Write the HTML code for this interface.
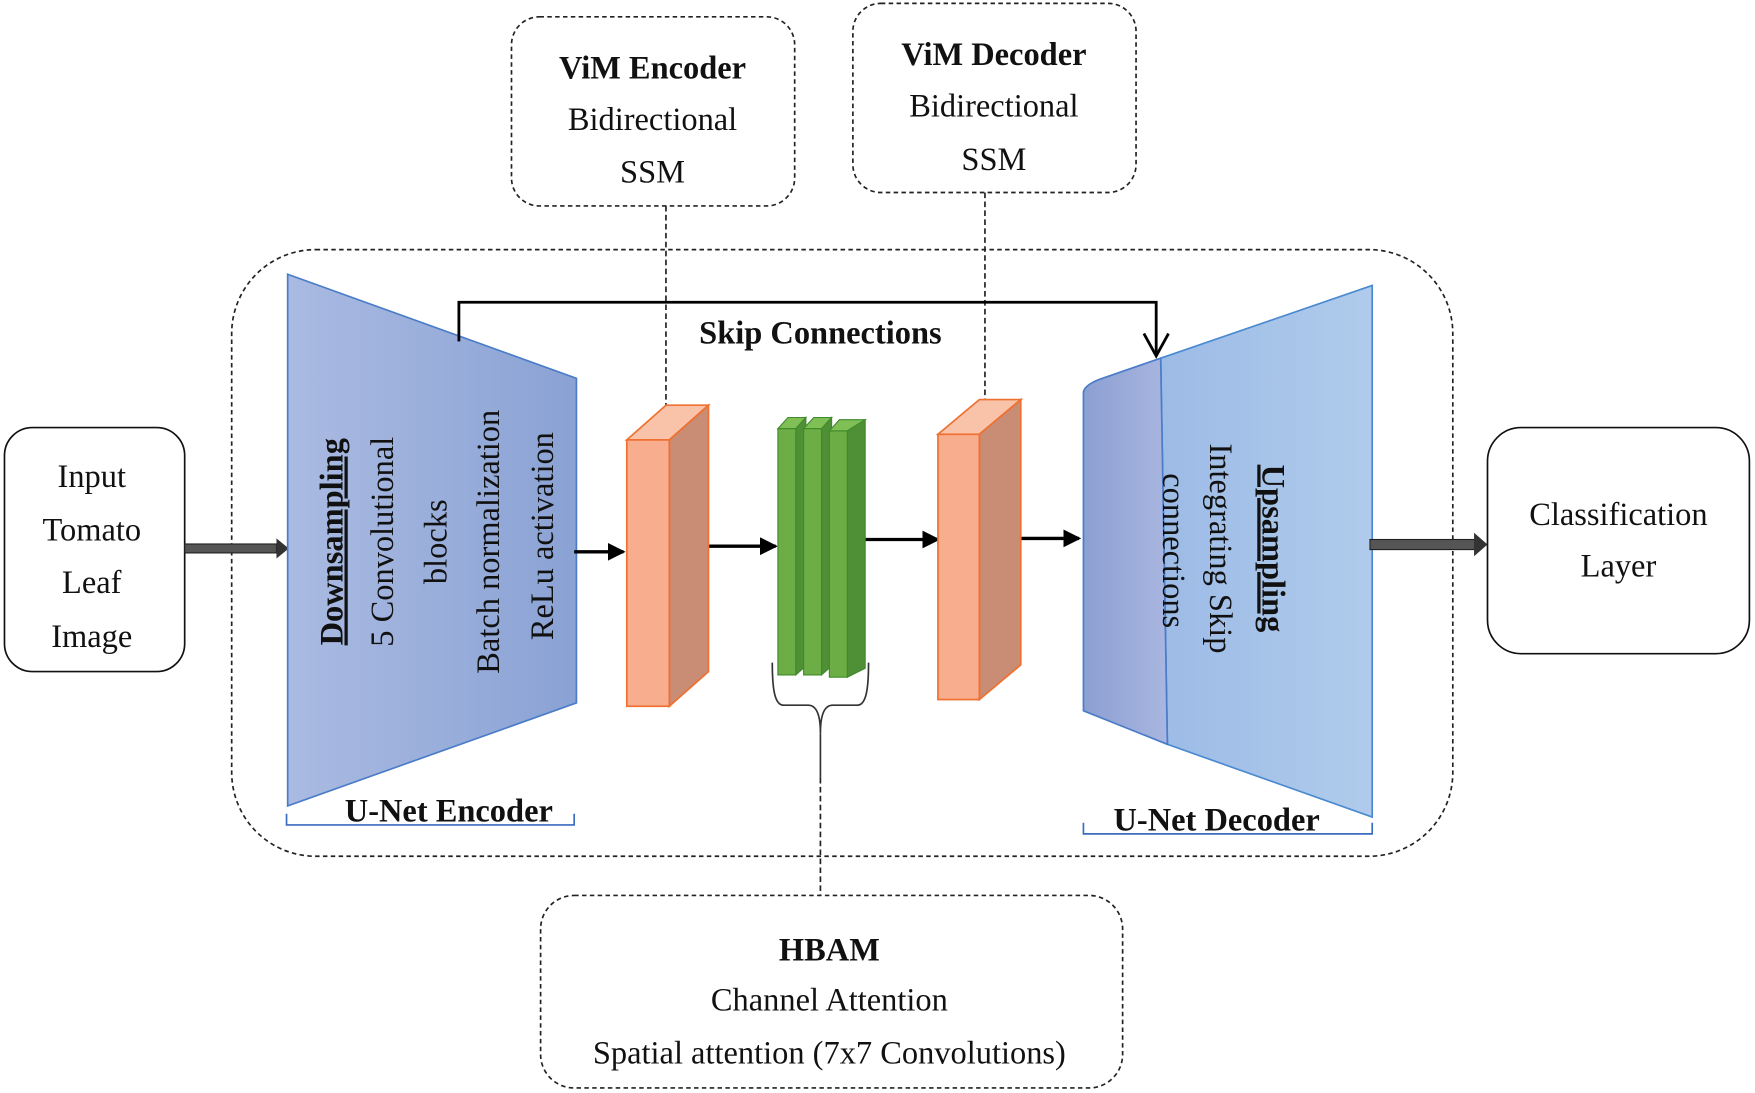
<!DOCTYPE html>
<html><head><meta charset="utf-8"><style>
html,body{margin:0;padding:0;background:#fff}
svg{display:block}
text{font-family:"Liberation Serif",serif;fill:#111}
.b{font-weight:bold}
</style></head><body>
<svg width="1755" height="1093" viewBox="0 0 1568 976.5" preserveAspectRatio="none" xmlns="http://www.w3.org/2000/svg">
<defs>
<linearGradient id="enc" x1="0" x2="1" y1="0" y2="0"><stop offset="0" stop-color="#aabbe2"/><stop offset="1" stop-color="#8aa2d4"/></linearGradient>
<linearGradient id="decd" x1="0" x2="1"><stop offset="0" stop-color="#8b9fd2"/><stop offset="1" stop-color="#a9b6e0"/></linearGradient>
<linearGradient id="decl" x1="0" x2="1"><stop offset="0" stop-color="#9cbbe6"/><stop offset="1" stop-color="#b0cbeb"/></linearGradient>
<marker id="ah" markerWidth="16" markerHeight="16" refX="14" refY="8" orient="auto" markerUnits="userSpaceOnUse"><path d="M0,0 L16,8 L0,16 z" fill="#000"/></marker>
</defs>
<rect x="207" y="223" width="1091" height="542" rx="75" fill="none" stroke="#222" stroke-width="1.5" stroke-dasharray="4,3"/>
<rect x="4" y="382" width="161" height="218" rx="25" fill="#fff" stroke="#111" stroke-width="1.5"/>
<g font-size="29" text-anchor="middle"><text x="82" y="435">Input</text><text x="82" y="483">Tomato</text><text x="82" y="530">Leaf</text><text x="82" y="578">Image</text></g>
<rect x="165" y="486" width="82" height="8" fill="#555" stroke="#222"/>
<path d="M247,481 L258,490 L247,499 z" fill="#333"/>
<rect x="457" y="15" width="253" height="169" rx="25" fill="#fff" stroke="#222" stroke-width="1.5" stroke-dasharray="4,3"/>
<g font-size="29" text-anchor="middle"><text class="b" x="583" y="70">ViM Encoder</text><text x="583" y="116">Bidirectional</text><text x="583" y="163">SSM</text></g>
<rect x="762" y="3" width="253" height="169" rx="25" fill="#fff" stroke="#222" stroke-width="1.5" stroke-dasharray="4,3"/>
<g font-size="29" text-anchor="middle"><text class="b" x="888" y="58">ViM Decoder</text><text x="888" y="104">Bidirectional</text><text x="888" y="152">SSM</text></g>
<line x1="595" y1="184" x2="595" y2="362" stroke="#222" stroke-width="1.5" stroke-dasharray="5,3"/>
<line x1="880" y1="172" x2="880" y2="357" stroke="#222" stroke-width="1.5" stroke-dasharray="5,3"/>
<polygon points="257,245 515,338 515,628 257,720" fill="url(#enc)" stroke="#4a7cc8" stroke-width="1.5"/>
<g font-size="29" text-anchor="middle">
<text class="b" transform="translate(306,484) rotate(-90)" text-decoration="underline">Downsampling</text>
<text transform="translate(351,484) rotate(-90)">5 Convolutional</text>
<text transform="translate(399,484) rotate(-90)">blocks</text>
<text transform="translate(446,484) rotate(-90)">Batch normalization</text>
<text transform="translate(494,479) rotate(-90)">ReLu activation</text>
</g>
<path d="M410,305 L410,270 L1033,270 L1033,316" fill="none" stroke="#000" stroke-width="2.5"/>
<path d="M1022,298 L1033,318 L1044,298" fill="none" stroke="#000" stroke-width="2.5"/>
<text class="b" x="733" y="307" font-size="29" text-anchor="middle">Skip Connections</text>
<line x1="513" y1="493" x2="557" y2="493" stroke="#000" stroke-width="3" marker-end="url(#ah)"/>
<line x1="633" y1="488" x2="693" y2="488" stroke="#000" stroke-width="3" marker-end="url(#ah)"/>
<line x1="770" y1="482" x2="838" y2="482" stroke="#000" stroke-width="3" marker-end="url(#ah)"/>
<line x1="912" y1="481" x2="964" y2="481" stroke="#000" stroke-width="3" marker-end="url(#ah)"/>
<g stroke="#f07030" stroke-width="1.5">
<polygon points="560,393 598,393 633,362 595,362" fill="#f9c3aa"/>
<polygon points="598,393 633,362 633,600 598,631" fill="#c98c74"/>
<rect x="560" y="393" width="38" height="238" fill="#f7ad8e"/>
<polygon points="838,388 875,388 912,357 875,357" fill="#f9c3aa"/>
<polygon points="875,388 912,357 912,594 875,625" fill="#c98c74"/>
<rect x="838" y="388" width="37" height="237" fill="#f7ad8e"/>
</g>
<g stroke="#3f8a2a" stroke-width="1">
<polygon points="695,383 711,383 720,373 704,373" fill="#7fbf56"/><polygon points="711,383 720,373 720,595 711,603" fill="#4f8f35"/><rect x="695" y="383" width="16" height="220" fill="#6cae45"/>
<polygon points="718,383 734,383 743,373 727,373" fill="#7fbf56"/><polygon points="734,383 743,373 743,595 734,603" fill="#4f8f35"/><rect x="718" y="383" width="16" height="220" fill="#6cae45"/>
<polygon points="741,385 757,385 773,375 750,375" fill="#7fbf56"/><polygon points="757,385 773,375 773,597 757,605" fill="#4f8f35"/><rect x="741" y="385" width="16" height="220" fill="#6cae45"/>
</g>
<path d="M690,592 C690,615 692,630 700,630 L722,630 C730,630 733,640 733,655 C733,640 736,630 744,630 L766,630 C774,630 776,615 776,592" fill="none" stroke="#333" stroke-width="1.5"/>
<line x1="733" y1="655" x2="733" y2="695" stroke="#333" stroke-width="1.5"/>
<line x1="733" y1="695" x2="733" y2="800" stroke="#222" stroke-width="1.5" stroke-dasharray="5,3"/>
<polygon points="1037,320 1226,255 1226,730 1043,665" fill="url(#decl)" stroke="#4a8ad0" stroke-width="1.5"/>
<path d="M968,350 Q970,343 985,338 L1037,320 L1043,665 L968,635 z" fill="url(#decd)" stroke="#4a7cc8" stroke-width="1.5"/>
<g font-size="29" text-anchor="middle">
<text class="b" transform="translate(1128,490) rotate(90)" text-decoration="underline">Upsampling</text>
<text transform="translate(1081,490) rotate(90)">Integrating Skip</text>
<text transform="translate(1039,492) rotate(90)">connections</text>
</g>
<path d="M256,727 L256,737 L513,737 L513,727" fill="none" stroke="#3a6cc0" stroke-width="1.5"/>
<text class="b" x="401" y="734" font-size="29" text-anchor="middle">U-Net Encoder</text>
<path d="M968,735 L968,745 L1226,745 L1226,735" fill="none" stroke="#3a6cc0" stroke-width="1.5"/>
<text class="b" x="1087" y="742" font-size="29" text-anchor="middle">U-Net Decoder</text>
<rect x="1224" y="482" width="94" height="9" fill="#555" stroke="#222"/>
<path d="M1317,476 L1329,486.5 L1317,497 z" fill="#333"/>
<rect x="1329" y="382" width="234" height="202" rx="30" fill="#fff" stroke="#111" stroke-width="1.5"/>
<g font-size="29" text-anchor="middle"><text x="1446" y="469">Classification</text><text x="1446" y="515">Layer</text></g>
<rect x="483" y="800" width="520" height="172" rx="30" fill="#fff" stroke="#222" stroke-width="1.5" stroke-dasharray="4,3"/>
<g font-size="29" text-anchor="middle"><text class="b" x="741" y="858">HBAM</text><text x="741" y="903">Channel Attention</text><text x="741" y="950">Spatial attention (7x7 Convolutions)</text></g>
</svg>
</body></html>
